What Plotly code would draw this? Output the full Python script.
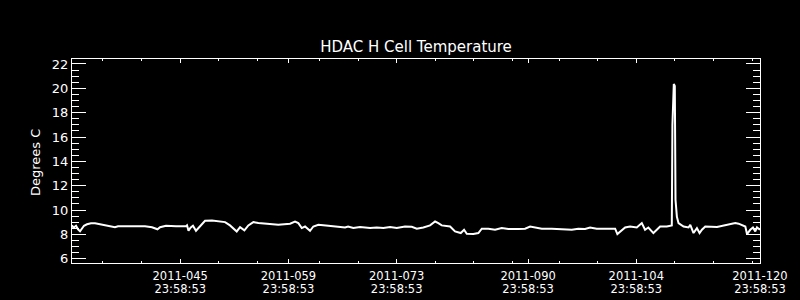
import plotly.graph_objects as go

# Day of year 2011 (fractional) and temperature (deg C)
doy = [32.00, 32.19, 32.52, 32.78, 33.04, 33.29, 33.55, 33.94, 34.46, 34.98,
       35.62, 36.40, 37.18, 37.56, 37.95, 38.99, 40.28, 41.44, 42.35, 42.87,
       43.06, 43.39, 44.16, 45.46, 46.75, 46.88, 47.07, 47.33, 47.65, 48.04,
       48.37, 48.69, 49.21, 50.11, 50.89, 51.80, 52.44, 52.83, 53.31, 53.74,
       54.30, 54.81, 55.46, 56.11, 57.40, 58.69, 60.21, 60.85, 61.28, 61.72,
       62.15, 62.79, 63.22, 63.87, 65.16, 66.45, 67.32, 67.71, 68.40, 69.26,
       70.56, 71.42, 72.28, 73.14, 74.01, 75.08, 75.95, 76.60, 77.45, 78.32,
       78.97, 79.39, 79.83, 80.91, 81.55, 82.29, 82.72, 83.07, 83.92, 84.57,
       85.01, 85.86, 86.73, 87.59, 88.45, 89.74, 90.61, 91.26, 91.90, 92.77,
       94.06, 95.36, 96.65, 97.50, 98.37, 99.02, 99.88, 100.96, 102.04, 102.26,
       102.55, 102.90, 103.55, 104.19, 105.06, 105.71, 106.13, 106.56, 107.21, 107.65,
       108.08, 108.94, 109.59, 109.67, 109.76, 109.85, 109.98, 110.07, 110.25, 110.46,
       111.11, 111.76, 111.98, 112.40, 112.84, 113.18, 113.49, 113.92, 115.44, 116.73,
       117.80, 118.23, 118.67, 119.10, 119.32, 119.74, 120.09, 120.39, 120.61, 120.99]
temp = [8.75, 8.55, 8.71, 8.42, 8.26, 8.47, 8.71, 8.83, 8.92, 8.92,
        8.83, 8.75, 8.67, 8.59, 8.67, 8.67, 8.71, 8.67, 8.59, 8.51,
        8.42, 8.59, 8.71, 8.67, 8.67, 8.75, 8.30, 8.55, 8.71, 8.30,
        8.51, 8.79, 9.12, 9.15, 9.06, 9.01, 8.74, 8.52, 8.24, 8.60,
        8.33, 8.74, 9.01, 8.93, 8.88, 8.79, 8.88, 9.06, 8.93, 8.52,
        8.65, 8.30, 8.65, 8.79, 8.71, 8.60, 8.57, 8.65, 8.52, 8.60,
        8.52, 8.57, 8.52, 8.60, 8.52, 8.65, 8.63, 8.47, 8.57, 8.74,
        9.06, 8.93, 8.74, 8.65, 8.24, 8.11, 8.38, 8.05, 8.03, 8.11,
        8.47, 8.47, 8.38, 8.52, 8.44, 8.44, 8.47, 8.65, 8.57, 8.47,
        8.47, 8.41, 8.38, 8.47, 8.44, 8.57, 8.47, 8.47, 8.52, 8.47,
        8.03, 8.24, 8.57, 8.65, 8.57, 8.93, 8.38, 8.57, 8.11, 8.38,
        8.65, 8.65, 8.74, 17.00, 19.70, 20.36, 20.20, 10.84, 9.45, 8.92,
        8.65, 8.57, 8.79, 8.11, 8.52, 8.11, 8.38, 8.65, 8.60, 8.79,
        8.93, 8.88, 8.74, 8.65, 8.03, 8.38, 8.57, 8.24, 8.57, 8.38]

major_x = [45.9992, 59.9992, 73.9992, 90.9992, 104.9992, 120.9992]
major_x_date = ["2011-045", "2011-059", "2011-073", "2011-090", "2011-104", "2011-120"]
major_x_time = ["23:58:53", "23:58:53", "23:58:53", "23:58:53", "23:58:53", "23:58:53"]
minor_x = [36, 41, 51, 56, 64, 69, 79, 84, 89, 95, 100, 110, 115, 120]

title = "HDAC H Cell Temperature"
ytitle = "Degrees C"

FONT = "DejaVu Sans"
XR = [32, 121]

fig = go.Figure()
fig.add_trace(go.Scatter(x=doy, y=temp, mode="lines",
                         line=dict(color="white", width=2), showlegend=False))
# invisible helper trace on the second x axis (time-of-day labels)
fig.add_trace(go.Scatter(x=[XR[0]], y=[temp[0]], xaxis="x2", mode="markers",
                         marker=dict(opacity=0), showlegend=False, hoverinfo="skip"))

fig.update_layout(
    width=800, height=300,
    paper_bgcolor="black", plot_bgcolor="black",
    margin=dict(l=72, r=40, t=59, b=37, autoexpand=False),
    font=dict(family=FONT, color="white", size=12),
    title=dict(text=title, x=416 / 800, xanchor="center",
               y=1 - 47 / 300, yanchor="middle", yref="container",
               font=dict(size=15, color="white", family=FONT)),
    xaxis=dict(
        range=XR, showgrid=False, zeroline=False, automargin=False,
        showline=True, linecolor="white", linewidth=1, mirror="ticks",
        ticks="inside", ticklen=4, tickcolor="white", tickwidth=1,
        tickmode="array", tickvals=major_x, ticktext=major_x_date,
        ticklabelstandoff=2,
        tickfont=dict(size=11.5, color="white", family=FONT),
        minor=dict(tickmode="array", tickvals=minor_x, ticks="inside",
                   ticklen=2, tickcolor="white", tickwidth=1, showgrid=False),
    ),
    xaxis2=dict(
        range=XR, overlaying="x", anchor="y", side="bottom", automargin=False,
        showgrid=False, zeroline=False, showline=False, ticks="",
        tickmode="array", tickvals=major_x, ticktext=major_x_time,
        ticklabelstandoff=17,
        tickfont=dict(size=11.5, color="white", family=FONT),
    ),
    yaxis=dict(
        range=[5.65, 22.41], showgrid=False, zeroline=False, automargin=False,
        showline=True, linecolor="white", linewidth=1, mirror="ticks",
        ticks="inside", ticklen=14, tickcolor="white", tickwidth=1,
        tickmode="linear", tick0=6, dtick=2,
        tickfont=dict(size=13, color="white", family=FONT),
        minor=dict(ticks="inside", dtick=0.5, tick0=6, ticklen=7,
                   tickcolor="white", tickwidth=1, showgrid=False),
    ),
)

fig.add_annotation(text=ytitle, xref="paper", yref="paper",
                   x=(35 - 72) / 688, y=0.49, textangle=-90,
                   xanchor="center", yanchor="middle", showarrow=False,
                   font=dict(size=13, color="white", family=FONT))

fig.write_html("out.html")
